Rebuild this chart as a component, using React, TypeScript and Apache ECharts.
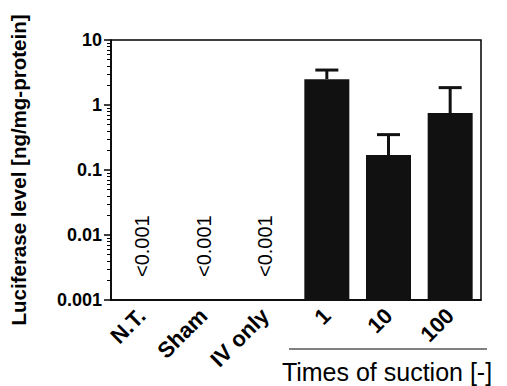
import React, { useEffect, useRef } from "react";
import * as echarts from "echarts";

const categories = ["N.T.", "Sham", "IV only", "1", "10", "100"];
const means: (number | string)[] = ["-", "-", "-", 2.5, 0.17, 0.75];
const errTop: (number | string)[] = ["-", "-", "-", 3.45, 0.35, 1.85];
const belowLabels = ["<0.001", "<0.001", "<0.001", "", "", ""];
const yMin = 0.001;
const yMax = 10;

const FONT = "'Liberation Sans', Arial, sans-serif";

export default function App() {
  const ref = useRef<HTMLDivElement>(null);
  useEffect(() => {
    const chart = echarts.init(ref.current!, null, { renderer: "svg" });
    chart.setOption({
      animation: false,
      grid: { left: 106, right: 26, top: 40, bottom: 86, show: true, borderColor: "#000", borderWidth: 1.5 },
      xAxis: {
        type: "category",
        data: categories,
        axisLine: { lineStyle: { color: "#000", width: 1.5 } },
        axisTick: { alignWithLabel: true, length: 6, lineStyle: { color: "#000", width: 1.5 } },
        axisLabel: { rotate: 45, color: "#000", fontWeight: "bold", fontSize: 22, fontFamily: FONT, margin: 12, interval: 0 },
      },
      yAxis: {
        type: "log",
        logBase: 10,
        min: yMin,
        max: yMax,
        name: "Luciferase level [ng/mg-protein]",
        nameLocation: "middle",
        nameGap: 82,
        nameTextStyle: { color: "#000", fontWeight: "bold", fontSize: 20.5, fontFamily: FONT },
        splitLine: { show: false },
        axisLine: { show: true, lineStyle: { color: "#000", width: 1.5 } },
        axisTick: { show: true, length: 7, lineStyle: { color: "#000", width: 1.5 } },
        minorTick: { show: true, splitNumber: 9, length: 4, lineStyle: { color: "#000", width: 1 } },
        axisLabel: {
          color: "#000", fontWeight: "bold", fontSize: 18, fontFamily: FONT, margin: 9,
          formatter: (v: number) => String(parseFloat(v.toPrecision(3))),
        },
      },
      series: [
        {
          type: "custom",
          data: means.map((m, i) => [i, m]),
          renderItem: (params: any, api: any) => {
            const m = api.value(1);
            if (isNaN(m)) return null;
            const p0 = api.coord([api.value(0), yMin]);
            const p1 = api.coord([api.value(0), m]);
            const w = 45;
            return {
              type: "rect",
              shape: { x: p1[0] - w / 2, y: p1[1], width: w, height: p0[1] - p1[1] },
              style: { fill: "#111" },
            };
          },
          z: 2,
        },
        {
          type: "custom",
          data: errTop.map((e, i) => [i, means[i], e]),
          renderItem: (params: any, api: any) => {
            const m = api.value(1);
            const e = api.value(2);
            if (isNaN(m) || isNaN(e)) return null;
            const p0 = api.coord([api.value(0), m]);
            const p1 = api.coord([api.value(0), e]);
            const hw = 11.5;
            return {
              type: "group",
              children: [
                { type: "line", shape: { x1: p0[0], y1: p0[1], x2: p1[0], y2: p1[1] }, style: { stroke: "#111", lineWidth: 3 } },
                { type: "line", shape: { x1: p1[0] - hw, y1: p1[1], x2: p1[0] + hw, y2: p1[1] }, style: { stroke: "#111", lineWidth: 3 } },
              ],
            };
          },
          z: 3,
        },
        {
          type: "custom",
          data: belowLabels.map((t, i) => [i, yMin]),
          renderItem: (params: any, api: any) => {
            const t = belowLabels[params.dataIndex];
            if (!t) return null;
            const p = api.coord([api.value(0), api.value(1)]);
            return {
              type: "text",
              x: p[0],
              y: p[1] - 23,
              rotation: Math.PI / 2,
              style: {
                text: t, fill: "#000", fontSize: 20, fontFamily: FONT,
                align: "left", verticalAlign: "middle",
              },
            };
          },
          z: 4,
        },
      ],
      graphic: [
        { type: "line", shape: { x1: 289, y1: 349, x2: 487, y2: 349 }, style: { stroke: "#000", lineWidth: 1 } },
        {
          type: "text", x: 387, y: 372,
          style: { text: "Times of suction [-]", fill: "#000", fontSize: 25, fontFamily: FONT, align: "center", verticalAlign: "middle" },
        },
      ],
    });
    return () => chart.dispose();
  }, []);
  return <div ref={ref} style={{ width: 507, height: 386, position: "absolute", left: 0, top: 0, background: "#fff" }} />;
}
